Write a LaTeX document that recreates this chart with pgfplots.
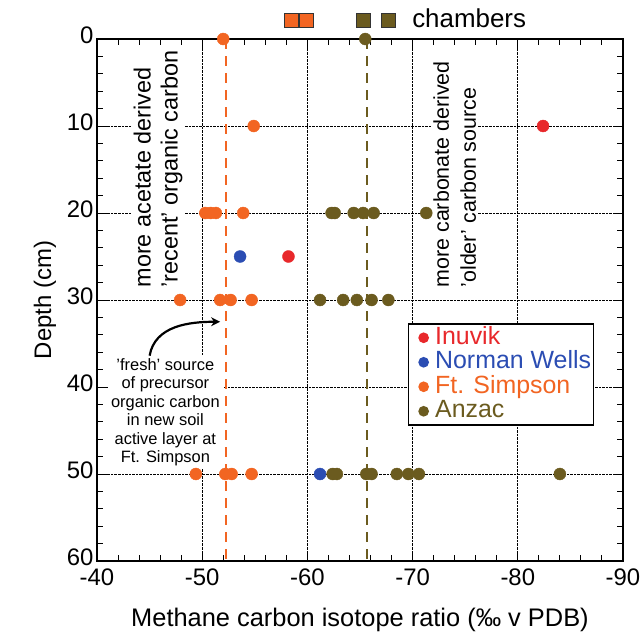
\documentclass[border=0pt]{standalone}
\usepackage{fontspec}
\setmainfont{Liberation Sans}
\usepackage{pgfplots}
\pgfplotsset{compat=1.18}
\usetikzlibrary{arrows.meta}

\definecolor{inuvik}{HTML}{E8282B}
\definecolor{normwells}{HTML}{2B4DB3}
\definecolor{simpson}{HTML}{F26522}
\definecolor{anzac}{HTML}{6B5B1F}

\pgfplotsset{
  site/.style={only marks, mark=*, mark size=6bp,
    legend image code/.code={
      \path[draw=none, fill=none] (0bp,0bp) (24bp,0bp);
      \draw[##1, mark size=4.5bp] plot coordinates {(13bp,0bp)};}},
}

\begin{document}
\begin{tikzpicture}
% page = 642 x 636, axis box 526 x 522
\useasboundingbox (-97bp,-75bp) rectangle (545bp,561bp);
\begin{axis}[
  at={(0,0)}, anchor=south west,
  scale only axis, width=526bp, height=522bp,
  x dir=reverse, y dir=reverse,
  xmin=-90, xmax=-40, ymin=0, ymax=60,
  xtick={-90,-80,-70,-60,-50,-40},
  xticklabels={-90,-80,-70,-60,-50,-40},
  ytick={0,10,20,30,40,50,60},
  yticklabels={0,10,20,30,40,50,60},
  minor x tick num=4, minor y tick num=4,
  tick pos=both, tick align=inside,
  major tick length=10bp, minor tick length=6bp,
  tick style={black, line width=1pt},
  axis line style={line width=1.2pt},
  grid=major,
  major grid style={densely dotted, black, line width=0.8pt},
  ticklabel style={font=\fontsize{24}{28}\selectfont},
  yticklabel style={yshift=4bp},
  xticklabel style={yshift=-4bp},
  xlabel={Methane carbon isotope ratio (‰ v PDB)},
  ylabel={Depth (cm)},
  label style={font=\fontsize{24}{28}\selectfont},
  xlabel style={at={(axis description cs:0.5,-0.112)}, anchor=center,
    font=\fontsize{25.5}{28}\selectfont},
  ylabel style={at={(axis description cs:-0.099,0.5)}, anchor=center},
  clip=false,
  legend style={at={(axis description cs:0.591,0.456)}, anchor=north west,
    draw=black, line width=1.6pt, fill=white,
    font=\fontsize{25}{25}\selectfont, row sep=0.5bp,
    inner xsep=2bp, inner ysep=2bp, cells={anchor=west},
    nodes={text height=18bp, text depth=5bp, inner sep=0.5bp}},
]

% dashed reference lines (chamber means)
\addplot[forget plot, no marks, sharp plot, simpson, line width=2.2pt, dash pattern=on 10bp off 7bp]
  coordinates {(-52.3,0) (-52.3,60)};
\addplot[forget plot, no marks, sharp plot, anzac, line width=2.2pt, dash pattern=on 10bp off 7bp]
  coordinates {(-65.7,0) (-65.7,60)};

% rotated notes
\node[fill=white, rotate=90, anchor=west, align=left, inner sep=2bp,
  font=\fontsize{23.5}{27}\selectfont] at (axis cs:-45.8,28.8)
  {more acetate derived\\ ’recent’ organic carbon};
\node[fill=white, rotate=90, anchor=west, align=left, inner sep=2bp,
  font=\fontsize{21.5}{27}\selectfont] at (axis cs:-74.0,28.8)
  {more carbonate derived\\ ’older’ carbon source};

% annotation
\node[fill=white, align=center, inner sep=3bp,
  font=\fontsize{16.5}{18.5}\selectfont] at (axis cs:-46.5,42.9)
  {’fresh’ source\\ of precursor\\ organic carbon\\ in new soil\\ active layer at\\ Ft. Simpson};
\draw[-{Stealth[length=9bp,width=9bp]}, line width=2.2pt, black]
  (axis cs:-45.0,36.4) to[out=80, in=180] (axis cs:-51.7,32.5);

\addplot[site, inuvik] coordinates {(-82.4,10) (-58.2,25)};
\addlegendentry{\textcolor{inuvik}{Inuvik}}
\addplot[site, normwells] coordinates {(-53.6,25) (-61.2,50)};
\addlegendentry{\textcolor{normwells}{Norman Wells}}
\addplot[site, simpson] coordinates {
  (-52.0,0) (-54.9,10)
  (-50.3,20) (-50.8,20) (-51.3,20) (-53.9,20)
  (-47.9,30) (-51.7,30) (-52.7,30) (-54.7,30)
  (-49.4,50) (-52.2,50) (-52.8,50) (-54.7,50)};
\addlegendentry{\textcolor{simpson}{Ft. Simpson}}
\addplot[site, anzac] coordinates {
  (-65.5,0)
  (-62.3,20) (-62.6,20) (-64.4,20) (-65.3,20) (-66.3,20) (-71.3,20)
  (-61.2,30) (-63.4,30) (-64.7,30) (-66.1,30) (-67.7,30)
  (-62.4,50) (-62.8,50) (-65.6,50) (-66.1,50) (-68.5,50) (-69.6,50) (-70.6,50) (-84.0,50)};
\addlegendentry{\textcolor{anzac}{Anzac}}

% chambers key above the axis
\draw[fill=simpson, draw=black!80, line width=0.8pt]
  ([yshift=12bp]axis description cs:0.357,1) rectangle ([xshift=14bp,yshift=26bp]axis description cs:0.357,1);
\draw[fill=simpson, draw=black!80, line width=0.8pt]
  ([yshift=12bp]axis description cs:0.384,1) rectangle ([xshift=14bp,yshift=26bp]axis description cs:0.384,1);
\draw[fill=anzac, draw=black!80, line width=0.8pt]
  ([yshift=12bp]axis description cs:0.494,1) rectangle ([xshift=14bp,yshift=26bp]axis description cs:0.494,1);
\draw[fill=anzac, draw=black!80, line width=0.8pt]
  ([yshift=12bp]axis description cs:0.540,1) rectangle ([xshift=14bp,yshift=26bp]axis description cs:0.540,1);
\node[anchor=base west, inner sep=0pt, font=\fontsize{26}{30}\selectfont]
  at ([yshift=12bp]axis description cs:0.599,1) {chambers};
\end{axis}
\end{tikzpicture}
\end{document}
